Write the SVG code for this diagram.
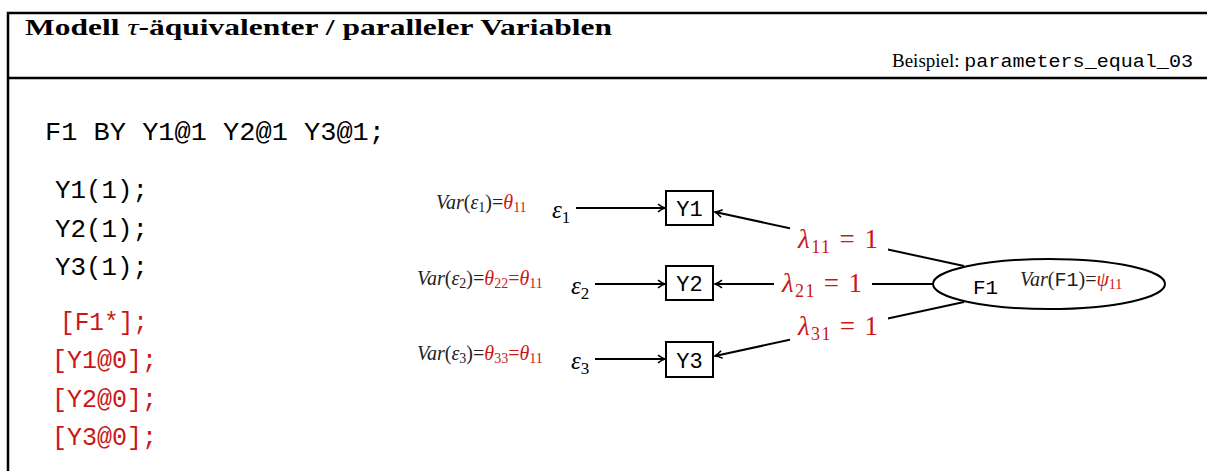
<svg xmlns="http://www.w3.org/2000/svg" width="1207" height="471" viewBox="0 0 1207 471">
<style>
.frame{fill:none;stroke:#000;stroke-width:2.5}
.title{font-family:"Liberation Serif",serif;font-weight:bold;font-size:23px}
.beis{font-family:"Liberation Serif",serif;font-size:18px}
.mono{font-family:"Liberation Mono",monospace}
.code{font-family:"Liberation Mono",monospace;font-size:26px;fill:#000}
.red{fill:#cc1616}
.box{fill:#fff;stroke:#000;stroke-width:2}
.boxt{font-family:"Liberation Mono",monospace;font-size:22px;text-anchor:middle}
.conn{stroke:#000;stroke-width:2;fill:none}
.eps{font-family:"Liberation Serif",serif;font-size:25px}
.var{font-family:"Liberation Serif",serif;font-size:20px;fill:#222}
.lam{font-family:"Liberation Serif",serif;font-size:27px;fill:#cc1616}
</style>
<defs>
<marker id="arr" markerWidth="12" markerHeight="12" refX="10" refY="6" orient="auto" markerUnits="userSpaceOnUse">
<path d="M3,2.2 Q7,5.2 10,6 Q7,6.8 3,9.8" fill="none" stroke="#000" stroke-width="1.6"/>
</marker>
</defs>
<g id="frame">
<path class="frame" d="M1207,13 H8 V471"/>
<line class="frame" x1="8" y1="78" x2="1207" y2="78"/>
<text class="title" x="25" y="35" textLength="587" lengthAdjust="spacingAndGlyphs">Modell <tspan font-style="italic" font-weight="normal">τ</tspan>-äquivalenter / paralleler Variablen</text>
<text class="beis" x="892" y="67" textLength="301" lengthAdjust="spacingAndGlyphs">Beispiel: <tspan class="mono" font-size="19">parameters_equal_03</tspan></text>
</g>
<g id="code">
<text class="code" x="45" y="140" textLength="340" lengthAdjust="spacingAndGlyphs">F1 BY Y1@1 Y2@1 Y3@1;</text>
<text class="code" x="55" y="198" textLength="93" lengthAdjust="spacingAndGlyphs">Y1(1);</text>
<text class="code" x="55" y="237" textLength="93" lengthAdjust="spacingAndGlyphs">Y2(1);</text>
<text class="code" x="55" y="275" textLength="93" lengthAdjust="spacingAndGlyphs">Y3(1);</text>
<text class="code red" x="60" y="330" textLength="88" lengthAdjust="spacingAndGlyphs">[F1*];</text>
<text class="code red" x="52" y="368" textLength="105" lengthAdjust="spacingAndGlyphs">[Y1@0];</text>
<text class="code red" x="52" y="407" textLength="105" lengthAdjust="spacingAndGlyphs">[Y2@0];</text>
<text class="code red" x="52" y="445" textLength="105" lengthAdjust="spacingAndGlyphs">[Y3@0];</text>
</g>
<g id="connectors">
<line class="conn" x1="576" y1="208" x2="665" y2="208" marker-end="url(#arr)"/>
<line class="conn" x1="595" y1="284" x2="665" y2="284" marker-end="url(#arr)"/>
<line class="conn" x1="595" y1="359" x2="665" y2="359" marker-end="url(#arr)"/>
<line class="conn" x1="964" y1="266" x2="715" y2="212" marker-end="url(#arr)"/>
<line class="conn" x1="933" y1="284" x2="715" y2="284" marker-end="url(#arr)"/>
<line class="conn" x1="964" y1="302" x2="715" y2="356" marker-end="url(#arr)"/>
</g>
<g id="lambda-labels">
<rect x="790" y="222" width="98" height="32" fill="#fff"/>
<text class="lam" x="798" y="248" textLength="80" lengthAdjust="spacing"><tspan font-style="italic">λ</tspan><tspan font-size="18" dy="5">11</tspan><tspan dy="-5"> = 1</tspan></text>
<rect x="774" y="266" width="98" height="32" fill="#fff"/>
<text class="lam" x="782" y="292" textLength="80" lengthAdjust="spacing"><tspan font-style="italic">λ</tspan><tspan font-size="18" dy="5">21</tspan><tspan dy="-5"> = 1</tspan></text>
<rect x="790" y="312" width="98" height="30" fill="#fff"/>
<text class="lam" x="798" y="335" textLength="80" lengthAdjust="spacing"><tspan font-style="italic">λ</tspan><tspan font-size="18" dy="5">31</tspan><tspan dy="-5"> = 1</tspan></text>
</g>
<g id="e1">
<text class="eps" x="552" y="218"><tspan font-style="italic">ε</tspan><tspan font-size="17" dy="5">1</tspan></text>
<text class="var" x="436" y="209"><tspan font-style="italic">Var</tspan>(<tspan font-style="italic">ε</tspan><tspan font-size="14" dy="3">1</tspan><tspan dy="-3">)=</tspan><tspan class="red" font-style="italic">θ</tspan><tspan class="red" font-size="14" dy="3">11</tspan></text>
</g>
<g id="e2">
<text class="eps" x="571" y="294"><tspan font-style="italic">ε</tspan><tspan font-size="17" dy="5">2</tspan></text>
<text class="var" x="417" y="285"><tspan font-style="italic">Var</tspan>(<tspan font-style="italic">ε</tspan><tspan font-size="14" dy="3">2</tspan><tspan dy="-3">)=</tspan><tspan class="red" font-style="italic">θ</tspan><tspan class="red" font-size="14" dy="3">22</tspan><tspan class="red" dy="-3">=</tspan><tspan class="red" font-style="italic">θ</tspan><tspan class="red" font-size="14" dy="3">11</tspan></text>
</g>
<g id="e3">
<text class="eps" x="571" y="369"><tspan font-style="italic">ε</tspan><tspan font-size="17" dy="5">3</tspan></text>
<text class="var" x="417" y="360"><tspan font-style="italic">Var</tspan>(<tspan font-style="italic">ε</tspan><tspan font-size="14" dy="3">3</tspan><tspan dy="-3">)=</tspan><tspan class="red" font-style="italic">θ</tspan><tspan class="red" font-size="14" dy="3">33</tspan><tspan class="red" dy="-3">=</tspan><tspan class="red" font-style="italic">θ</tspan><tspan class="red" font-size="14" dy="3">11</tspan></text>
</g>
<g id="Y1">
<rect class="box" x="666" y="191" width="47" height="34"/>
<text class="boxt" x="689.5" y="216">Y1</text>
</g>
<g id="Y2">
<rect class="box" x="666" y="266" width="47" height="34"/>
<text class="boxt" x="689.5" y="291">Y2</text>
</g>
<g id="Y3">
<rect class="box" x="666" y="342" width="47" height="35"/>
<text class="boxt" x="689.5" y="368">Y3</text>
</g>
<g id="F1">
<ellipse cx="1049" cy="284" rx="116" ry="25" fill="#fff" stroke="#000" stroke-width="2"/>
<text class="mono" font-size="21" x="973" y="294">F1</text>
<text class="var" x="1020" y="286"><tspan font-style="italic">Var</tspan>(<tspan class="mono">F1</tspan>)=<tspan class="red" font-style="italic">ψ</tspan><tspan class="red" font-size="14" dy="3">11</tspan></text>
</g>
</svg>
